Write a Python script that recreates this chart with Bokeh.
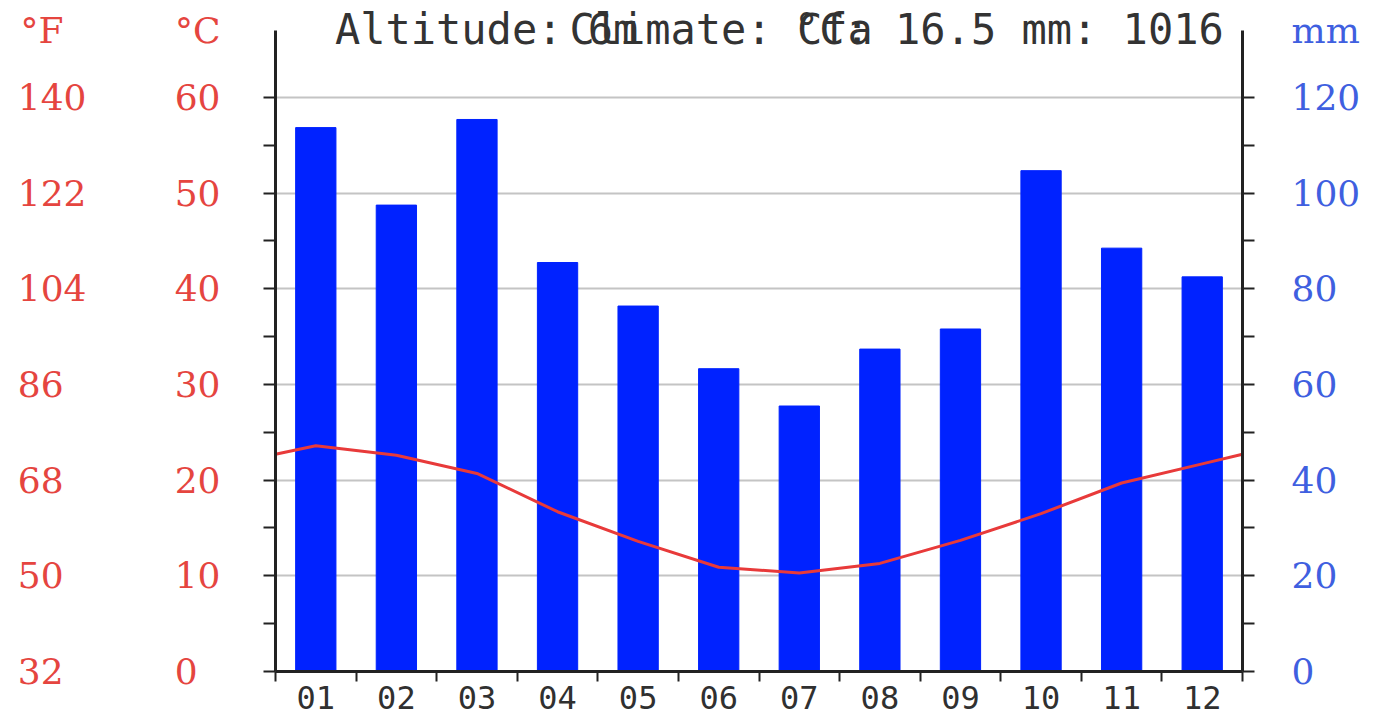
import numpy as np
from bokeh.plotting import figure
from bokeh.models import Range1d, LinearAxis, FixedTicker, Grid
from bokeh.embed import file_html
from bokeh.resources import INLINE

# ---------------- data ----------------
months = ["01", "02", "03", "04", "05", "06", "07", "08", "09", "10", "11", "12"]
precip_mm = [113.7, 97.5, 115.4, 85.5, 76.4, 63.3, 55.5, 67.4, 71.6, 104.7, 88.5, 82.5]
temp_c = [23.6, 22.6, 20.7, 16.7, 13.6, 10.9, 10.3, 11.3, 13.7, 16.5, 19.7, 21.7]
temp_c_edge = 22.7  # value drawn at the Dec/Jan boundary (chart edges)

c_ticks = [0, 10, 20, 30, 40, 50, 60]
f_labels = ["32", "50", "68", "86", "104", "122", "140"]
mm_ticks = [0, 20, 40, 60, 80, 100, 120]

title_texts = ["Altitude: 6m", "Climate: Cfa", "°C: 16.5 mm: 1016"]
unit_f, unit_c, unit_mm = "°F", "°C", "mm"

# ---------------- styling ----------------
RED = "#e5453f"
BLUE_LBL = "#3f5fe0"
BAR = "#0022ff"
LINE = "#e83a3a"
AX = "#222222"
SERIF = "DejaVu Serif"
MONO = "DejaVu Sans Mono"
FS = "36px"
FIGSP = "\u2007"

W, H = 1376, 722
FL, FR, FT, FB = 275, 1242, 30, 671   # frame edges on the canvas
C_MAX = 67
p = figure(width=W, height=H, x_range=Range1d(0, 12), y_range=Range1d(0, C_MAX),
           output_backend="svg", toolbar_location=None,
           x_axis_type=None, y_axis_type=None,
           min_border_left=FL, min_border_right=W - FR,
           min_border_top=FT, min_border_bottom=H - FB)
p.outline_line_color = None
p.background_fill_color = "white"
F_MAX = 32 + 1.8 * C_MAX
MM_MAX = 2 * C_MAX
p.extra_y_ranges = {"mm": Range1d(0, MM_MAX), "F": Range1d(32, F_MAX)}

# grid
p.add_layout(Grid(dimension=1, ticker=FixedTicker(ticks=c_ticks[1:]),
                  grid_line_color="#c4c4c4", grid_line_width=2))

# bars + temperature line
centers = np.arange(len(months)) + 0.5
p.vbar(x=centers, top=precip_mm, bottom=0, width=0.5, y_range_name="mm",
       fill_color=BAR, line_color=BAR)
line_x = [0.0] + list(centers) + [12.0]
line_t = [temp_c_edge] + temp_c + [temp_c_edge]
p.line(line_x, line_t, line_color=LINE, line_width=3, line_join="round")

def pad(lbls, width):
    return [s + FIGSP * (width - len(s)) for s in lbls]

common_tick_style = dict(axis_line_color=AX, axis_line_width=3,
                         major_tick_line_color=None, major_tick_out=0, major_tick_in=0,
                         minor_tick_line_color=AX, minor_tick_line_width=2,
                         minor_tick_out=12, minor_tick_in=0)

# °C axis (nearest the frame): line + ticks + labels; header as top label
c_lbls = pad([str(t) for t in c_ticks], 2)
c_over = {t: l for t, l in zip(c_ticks, c_lbls)}
c_over[C_MAX] = unit_c
axC = LinearAxis(ticker=FixedTicker(ticks=c_ticks + [C_MAX], minor_ticks=list(range(0, 61, 5))),
                 major_label_overrides=c_over,
                 major_label_standoff=43,
                 major_label_text_font=SERIF, major_label_text_font_size=FS,
                 major_label_text_color=RED, **common_tick_style)
p.add_layout(axC, "left")

# °F axis: labels only
f_vals = [int(s) for s in f_labels]
f_lbls = pad(f_labels, 3)
f_over = {t: l for t, l in zip(f_vals, f_lbls)}
f_over[F_MAX] = unit_f + FIGSP
axF = LinearAxis(y_range_name="F", ticker=FixedTicker(ticks=f_vals + [F_MAX], minor_ticks=[]),
                 major_label_overrides=f_over,
                 axis_line_color=None, major_tick_line_color=None, minor_tick_line_color=None,
                 major_tick_out=0, major_tick_in=0, minor_tick_out=0, minor_tick_in=0,
                 major_label_standoff=85,
                 major_label_text_font=SERIF, major_label_text_font_size=FS,
                 major_label_text_color=RED)
p.add_layout(axF, "left")

# mm axis on the right
m_over = {t: str(t) for t in mm_ticks}
m_over[MM_MAX] = unit_mm
axM = LinearAxis(y_range_name="mm",
                 ticker=FixedTicker(ticks=mm_ticks + [MM_MAX], minor_ticks=list(range(0, 121, 10))),
                 major_label_overrides=m_over,
                 major_label_standoff=37,
                 major_label_text_font=SERIF, major_label_text_font_size=FS,
                 major_label_text_color=BLUE_LBL, **common_tick_style)
p.add_layout(axM, "right")

# x axis: ticks at month boundaries, labels at month centres
axX = LinearAxis(ticker=FixedTicker(ticks=list(centers), minor_ticks=list(range(13))),
                 major_label_overrides={float(c): m for c, m in zip(centers, months)},
                 axis_line_color=AX, axis_line_width=3,
                 major_tick_line_color=None,
                 minor_tick_line_color=AX, minor_tick_line_width=2,
                 major_tick_out=0, major_tick_in=0, minor_tick_out=10, minor_tick_in=0,
                 major_label_standoff=4,
                 major_label_text_font=MONO, major_label_text_font_size="32px",
                 major_label_text_color="#303030")
p.add_layout(axX, "below")

# header line: three overlapping texts placed as labels of an axis above the frame
title_pos = [2.62, 5.53, 9.10]
axT = LinearAxis(ticker=FixedTicker(ticks=title_pos, minor_ticks=[]),
                 major_label_overrides={t: s for t, s in zip(title_pos, title_texts)},
                 axis_line_color=None, major_tick_line_color=None, minor_tick_line_color=None,
                 major_tick_out=0, major_tick_in=0, minor_tick_out=0, minor_tick_in=0,
                 major_label_standoff=-23,
                 major_label_text_font=MONO, major_label_text_font_size="42px",
                 major_label_text_color="#333333")
p.add_layout(axT, "above")

open("out.html", "w").write(file_html(p, INLINE))
